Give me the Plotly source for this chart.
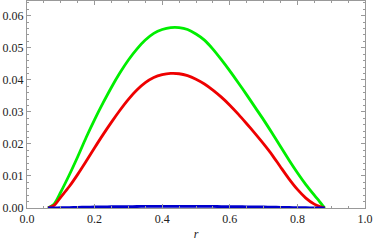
import plotly.graph_objects as go

r = [0.062, 0.08, 0.1, 0.125, 0.15, 0.175, 0.2, 0.225, 0.25, 0.275, 0.3, 0.325, 0.35, 0.375,
     0.4, 0.425, 0.45, 0.475, 0.5, 0.525, 0.55, 0.575, 0.6, 0.625, 0.65, 0.675, 0.7, 0.725,
     0.75, 0.775, 0.8, 0.825, 0.85, 0.865, 0.881]

green = [0, 0.0012, 0.0050, 0.0103, 0.0160, 0.0220, 0.0276, 0.0328, 0.0377, 0.0422, 0.0462,
         0.0496, 0.0524, 0.0545, 0.0557, 0.0563, 0.0563, 0.0557, 0.0543, 0.0524, 0.0496,
         0.0463, 0.0428, 0.0391, 0.0353, 0.0314, 0.0275, 0.0234, 0.0192, 0.0150, 0.0110,
         0.0073, 0.0040, 0.0021, 0]

red = [0, 0.0008, 0.0034, 0.0067, 0.0105, 0.0146, 0.0188, 0.0229, 0.0268, 0.0305, 0.0339,
       0.0368, 0.0391, 0.0407, 0.0416, 0.0420, 0.0419, 0.0413, 0.0402, 0.0387, 0.0368,
       0.0346, 0.0321, 0.0293, 0.0263, 0.0232, 0.0200, 0.0166, 0.0128, 0.0091, 0.0058,
       0.0031, 0.0012, 0.0005, 0]

blue = [0, 0.00003, 0.00008, 0.00014, 0.0002, 0.00026, 0.00031, 0.00035, 0.00039, 0.00042,
        0.00045, 0.00047, 0.00049, 0.0005, 0.00051, 0.00051, 0.00051, 0.00051, 0.0005,
        0.00049, 0.00048, 0.00046, 0.00044, 0.00041, 0.00038, 0.00035, 0.00031, 0.00027,
        0.00022, 0.00017, 0.00012, 0.00008, 0.00004, 0.00002, 0]

fig = go.Figure()
fig.add_trace(go.Scatter(x=r, y=green, mode="lines",
                         line=dict(color="#00ee00", width=2.8, shape="spline", smoothing=0.8)))
fig.add_trace(go.Scatter(x=r, y=red, mode="lines",
                         line=dict(color="#ee0000", width=2.8, shape="spline", smoothing=0.8)))
fig.add_trace(go.Scatter(x=r, y=blue, mode="lines",
                         line=dict(color="#0000cc", width=2.8, shape="spline", smoothing=0.8)))

serif = "Times New Roman, Liberation Serif, Tinos, serif"
tickfont = dict(family=serif, size=12, color="#222")
axcommon = dict(showline=True, linecolor="#999", linewidth=1, mirror="allticks",
                ticks="inside", ticklen=4, tickcolor="#999", showgrid=False, zeroline=False,
                tickfont=tickfont)

fig.update_layout(
    width=374, height=246,
    margin=dict(l=27, r=9, t=1, b=38),
    plot_bgcolor="white", paper_bgcolor="white",
    showlegend=False,
    font=dict(family=serif),
    xaxis=dict(range=[0, 1], dtick=0.2, tickformat=".1f",
               minor=dict(dtick=0.05, ticklen=2, tickcolor="#999", ticks="inside"),
               title=dict(text="<i>r</i>", font=dict(family=serif, size=12, color="#222"), standoff=4),
               **axcommon),
    yaxis=dict(range=[0, 0.0646], dtick=0.01, tickformat=".2f",
               minor=dict(dtick=0.002, ticklen=2, tickcolor="#999", ticks="inside"),
               **axcommon),
)

fig.write_html("out.html", config={"displayModeBar": False},
               post_script="document.body.style.margin='0';document.body.style.overflow='hidden';")
